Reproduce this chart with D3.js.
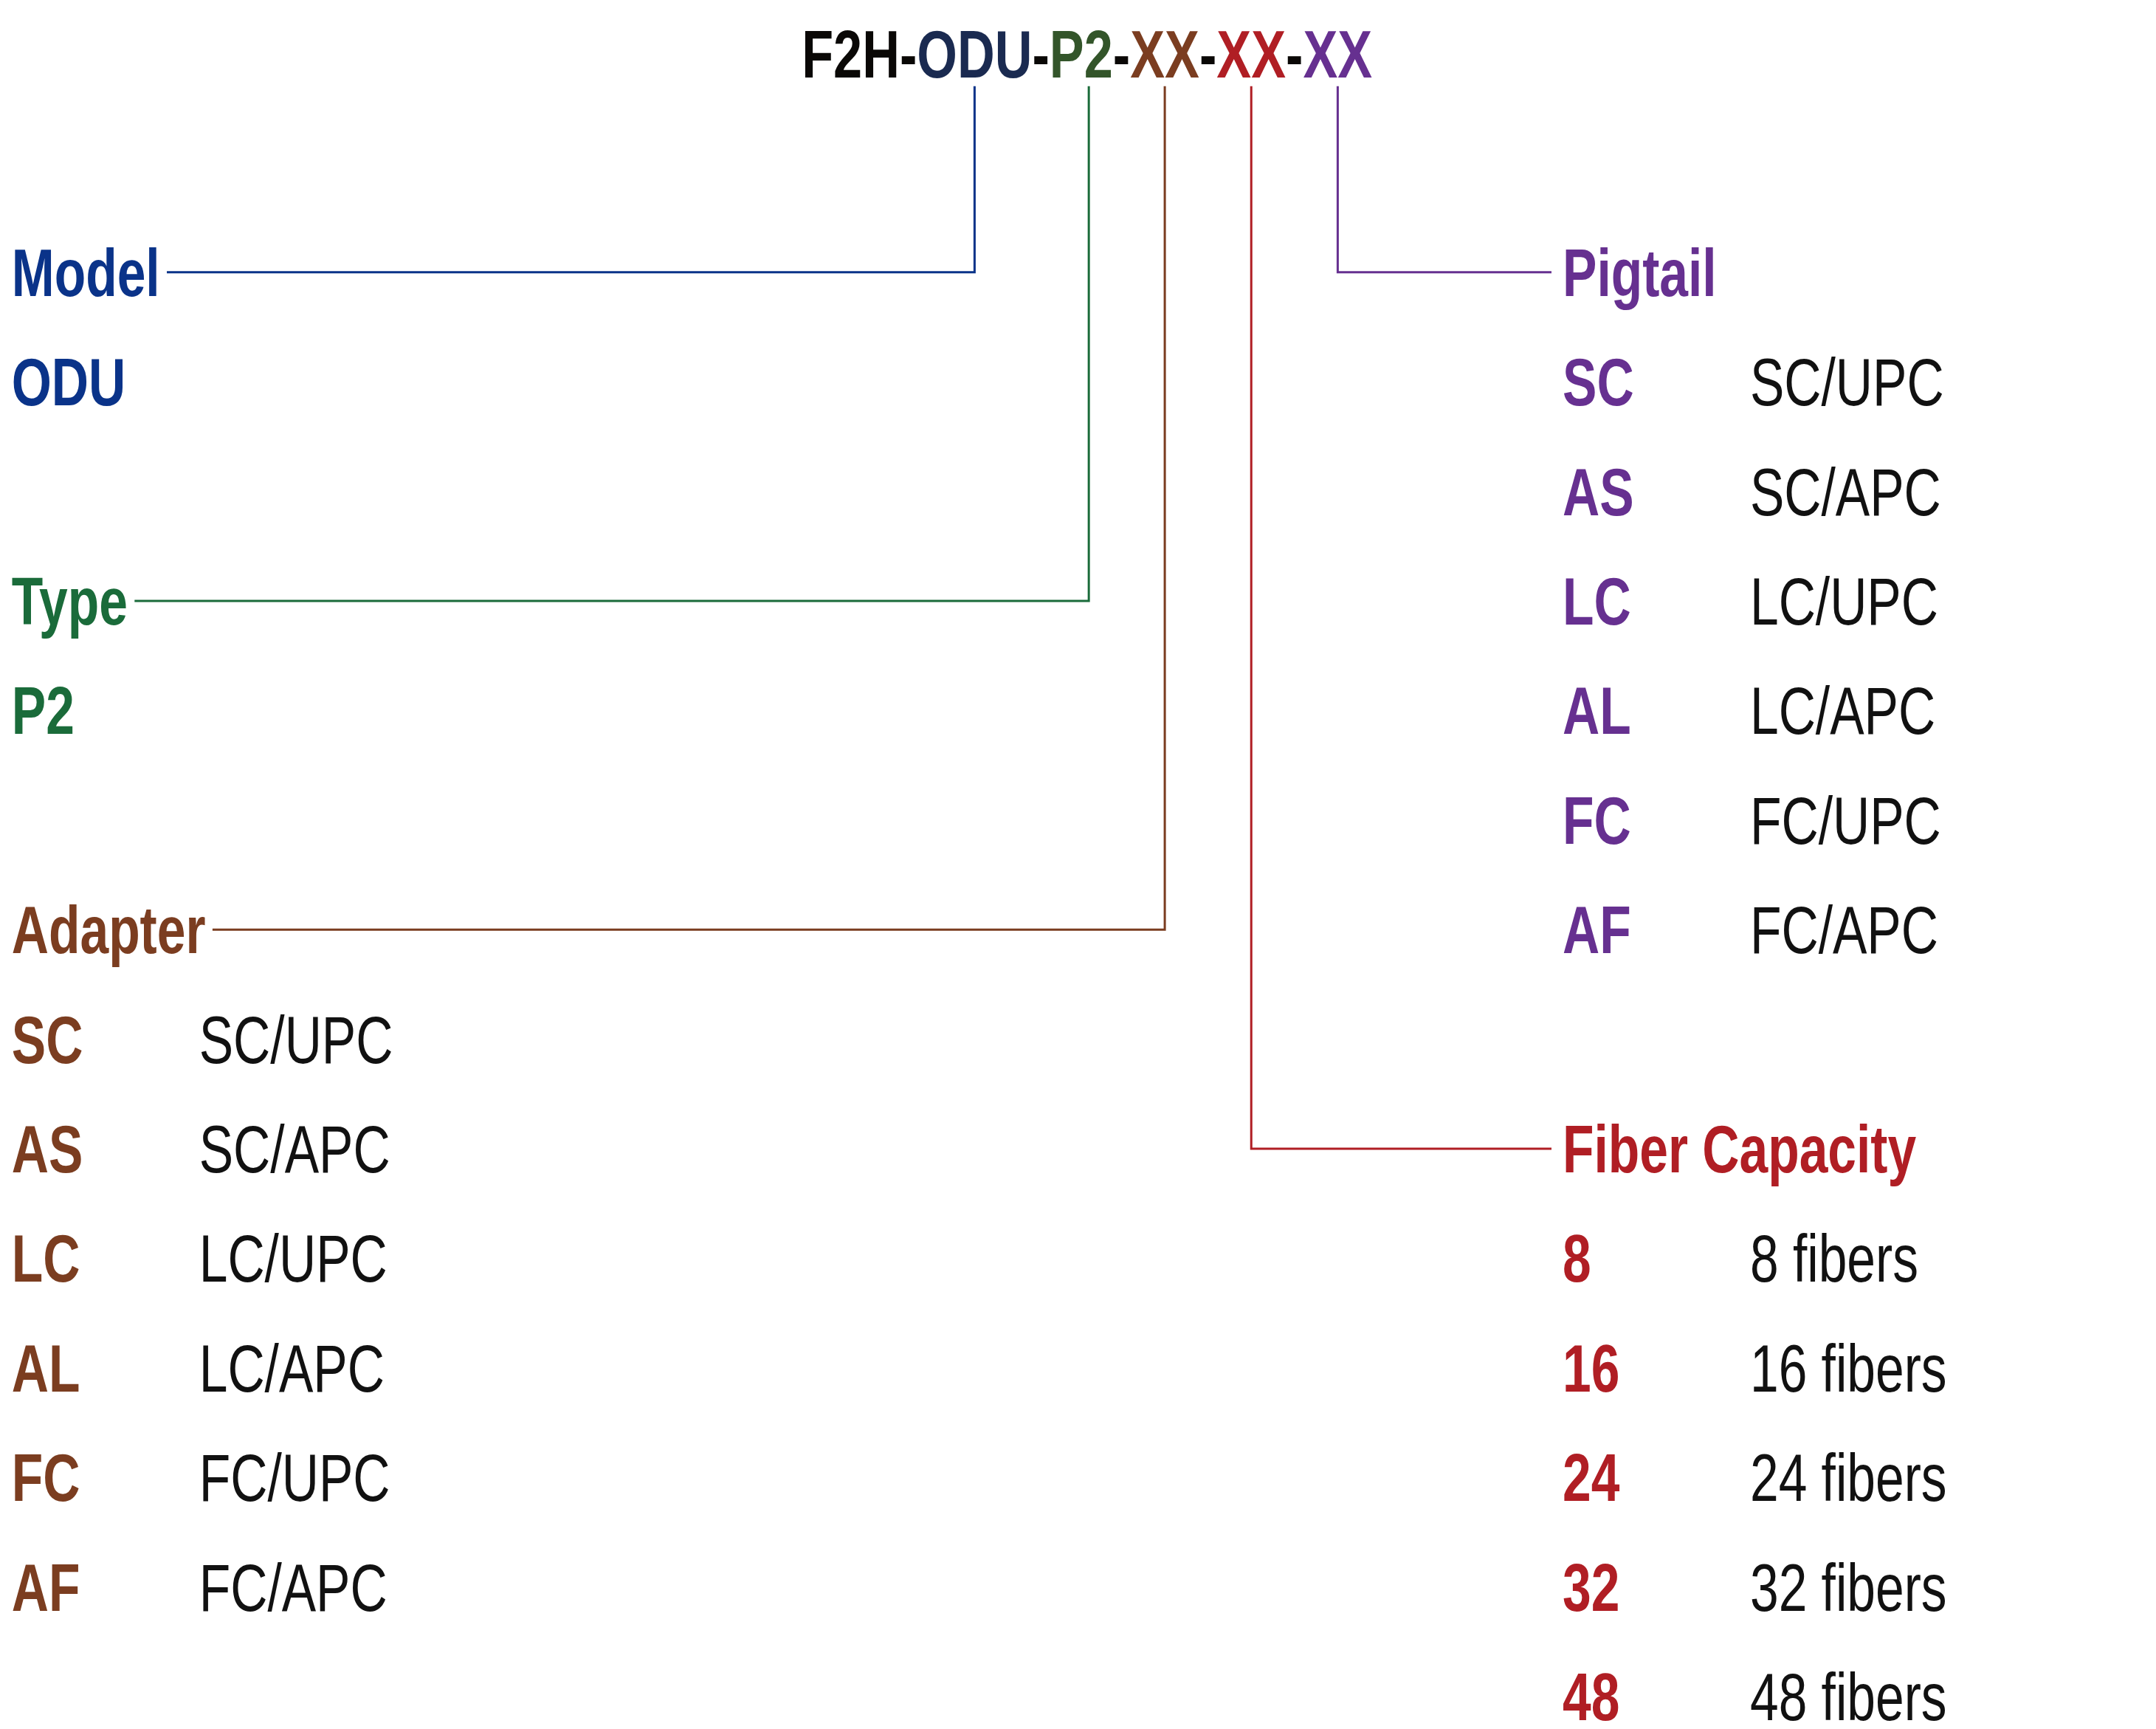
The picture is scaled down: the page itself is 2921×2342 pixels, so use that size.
<!DOCTYPE html>
<html>
<head>
<meta charset="UTF-8">
<title>F2H-ODU ordering code</title>
<script src="https://cdn.jsdelivr.net/npm/d3@7"></script>
<style>
  body { margin: 0; background: #fff; }
  text { font-family: "Liberation Sans Narrow", "Arial Narrow", "Liberation Sans", sans-serif; }
</style>
</head>
<body>
<script>
// code parts of the title
var codeParts = ["F2H-", "ODU", "-", "P2", "-", "XX", "-", "XX", "-", "XX"];
var codeColors = ["#0a0806", "#1a2a50", "#0a0806", "#33552a", "#0a0806", "#7b3d20", "#0a0806", "#b01e24", "#0a0806", "#663090"];

var modelCodes = ["ODU"];
var typeCodes = ["P2"];
var adapterCodes = ["SC", "AS", "LC", "AL", "FC", "AF"];
var adapterDesc = ["SC/UPC", "SC/APC", "LC/UPC", "LC/APC", "FC/UPC", "FC/APC"];
var pigtailCodes = ["SC", "AS", "LC", "AL", "FC", "AF"];
var pigtailDesc = ["SC/UPC", "SC/APC", "LC/UPC", "LC/APC", "FC/UPC", "FC/APC"];
var capacityCodes = ["8", "16", "24", "32", "48"];
var capacityDesc = ["8 fibers", "16 fibers", "24 fibers", "32 fibers", "48 fibers"];

var W = 1552, H = 1245;
var svg = d3.select("body").append("svg")
    .attr("width", 2921).attr("height", 2342)
    .attr("viewBox", "0 0 " + W + " " + H);

var row = d3.scaleLinear().domain([0, 1]).range([196, 274.9]);
var fs = 48, base = 17, sx = 0.77;

// condensed text helper (no narrow font installed)
function label(x, y, txt, color, bold) {
  return svg.append("text")
      .attr("transform", "translate(" + x + "," + y + ") scale(" + sx + ",1)")
      .attr("font-size", fs).attr("font-weight", bold ? "bold" : "normal")
      .attr("fill", color).text(txt);
}

// title
var title = svg.append("text")
    .attr("font-size", fs).attr("font-weight", "bold");
title.selectAll("tspan").data(codeParts).enter().append("tspan")
    .attr("fill", function(d, i) { return codeColors[i]; })
    .text(function(d) { return d; });
var tnode = title.node();
var tsx = 411 / tnode.getComputedTextLength();
title.attr("transform", "translate(577,56) scale(" + tsx + ",1)");

// horizontal position of a title part
function partX(idx, frac) {
  var start = 0;
  for (var i = 0; i < idx; i++) start += codeParts[i].length;
  var a = tnode.getStartPositionOfChar(start).x;
  var b = tnode.getEndPositionOfChar(start + codeParts[idx].length - 1).x;
  return 577 + (a + (b - a) * frac) * tsx;
}

var groups = [
  {name: "Model", color: "#0a3389", side: "L", r: 0, part: 1, frac: 0.5, codes: modelCodes, desc: null},
  {name: "Type", color: "#1a6b3a", side: "L", r: 3, part: 3, frac: 0.62, codes: typeCodes, desc: null},
  {name: "Adapter", color: "#7b3d20", side: "L", r: 6, part: 5, frac: 0.5, codes: adapterCodes, desc: adapterDesc},
  {name: "Pigtail", color: "#663090", side: "R", r: 0, part: 9, frac: 0.5, codes: pigtailCodes, desc: pigtailDesc},
  {name: "Fiber Capacity", color: "#b01e24", side: "R", r: 8, part: 7, frac: 0.5, codes: capacityCodes, desc: capacityDesc}
];

groups.forEach(function(g) {
  var x0 = g.side === "L" ? 8 : 1125;
  var xd = g.side === "L" ? 143 : 1260;
  var lbl = label(x0, row(g.r) + base, g.name, g.color, true);
  g.codes.forEach(function(c, i) {
    label(x0, row(g.r + 1 + i) + base, c, g.color, true);
    if (g.desc) label(xd, row(g.r + 1 + i) + base, g.desc[i], "#111", false);
  });
  var vx = partX(g.part, g.frac);
  var y = row(g.r);
  var hx = g.side === "L" ? x0 + lbl.node().getComputedTextLength() * sx + 5 : 1117;
  svg.append("path")
      .attr("d", "M" + hx + "," + y + "H" + vx + "V62")
      .attr("fill", "none").attr("stroke", g.color).attr("stroke-width", 1.6);
});
</script>
</body>
</html>
